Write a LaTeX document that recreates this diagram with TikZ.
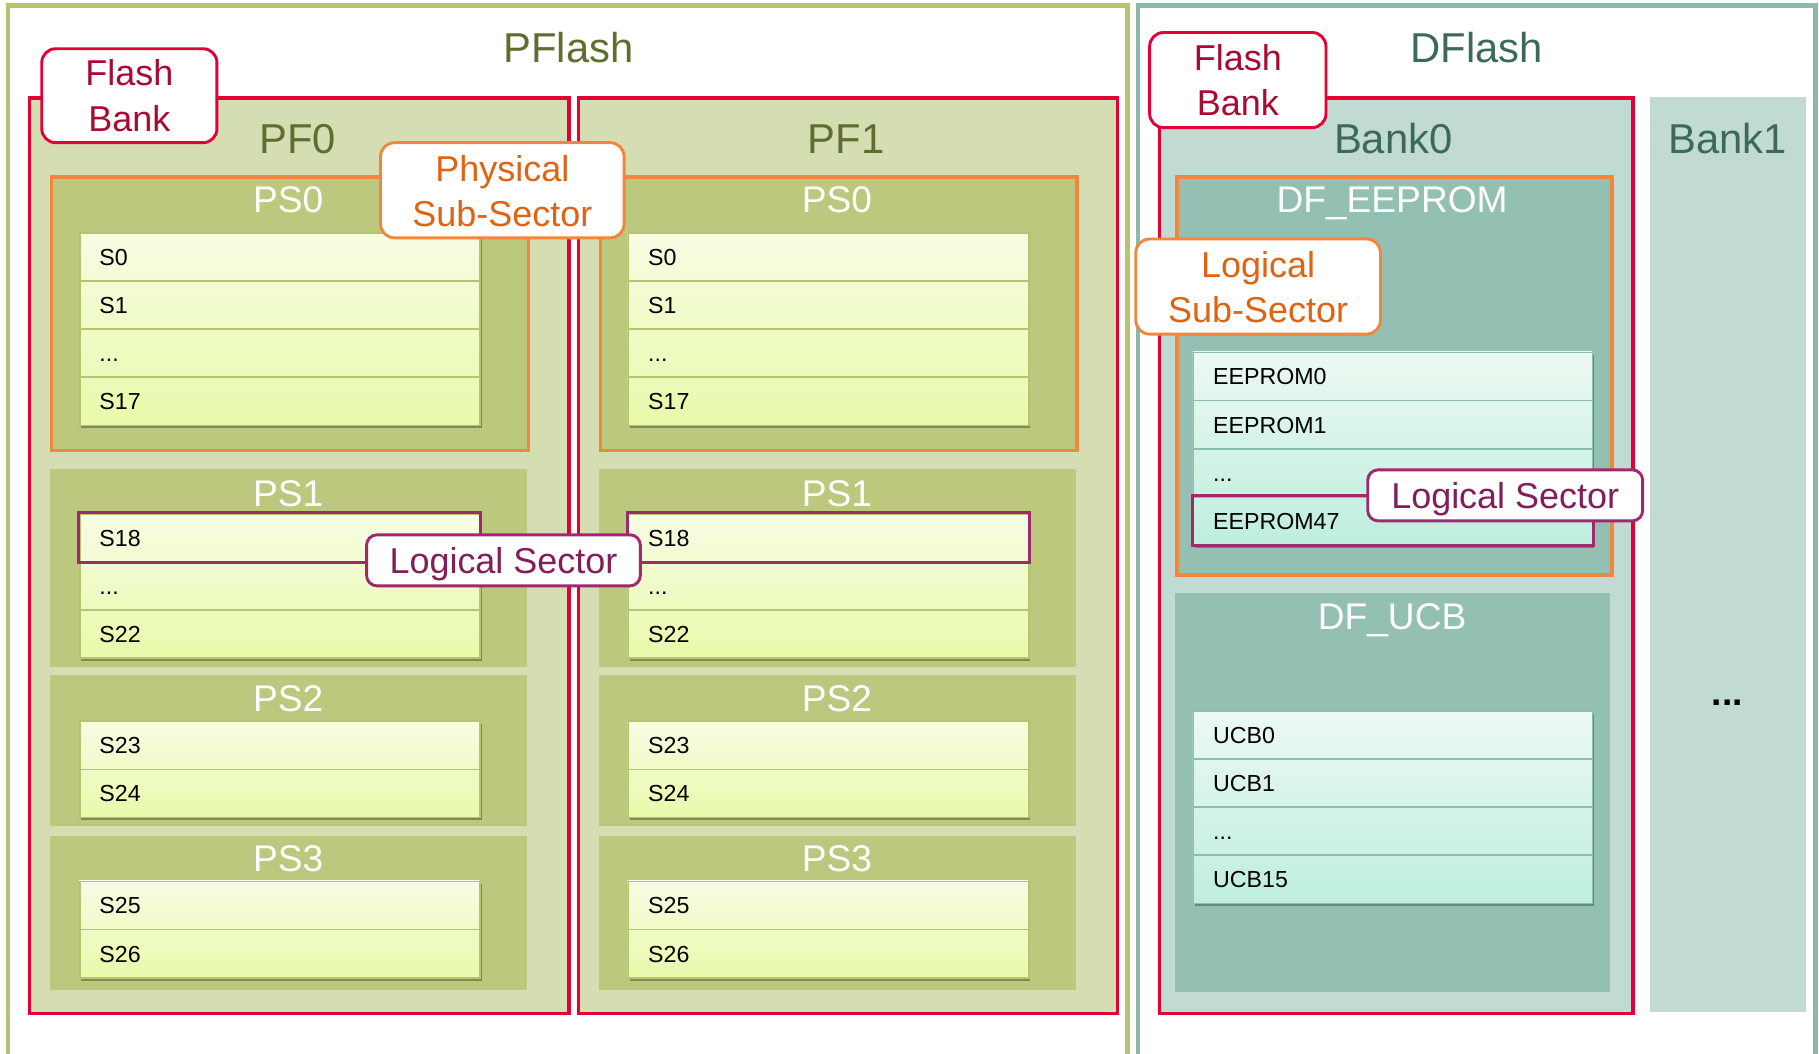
\documentclass[tikz,border=0pt]{standalone}
\usepackage{fontspec}
\setmainfont{Liberation Sans}
\usetikzlibrary{shadows}

\definecolor{pfline}{RGB}{181,196,110}
\definecolor{pftitle}{RGB}{94,110,46}
\definecolor{pffill}{RGB}{213,222,178}
\definecolor{psfill}{RGB}{187,200,126}
\definecolor{dfline}{RGB}{140,185,168}
\definecolor{dftitle}{RGB}{60,105,90}
\definecolor{dffill}{RGB}{193,219,211}
\definecolor{dsfill}{RGB}{148,192,179}
\definecolor{bankred}{RGB}{226,0,52}
\definecolor{banktext}{RGB}{170,10,50}
\definecolor{subor}{RGB}{240,135,60}
\definecolor{subtext}{RGB}{222,100,20}
\definecolor{secpurp}{RGB}{160,40,110}
\definecolor{sectext}{RGB}{130,30,90}
\definecolor{pfrowtop}{RGB}{247,252,228}
\definecolor{pfrowbot}{RGB}{232,250,170}
\definecolor{pfrowline}{RGB}{181,196,110}
\definecolor{dfrowtop}{RGB}{236,249,243}
\definecolor{dfrowbot}{RGB}{190,238,222}
\definecolor{dfrowline}{RGB}{140,190,175}

\newcommand{\titlefont}{\fontsize{36}{40}\selectfont}
\newcommand{\partfont}{\fontsize{32}{36}\selectfont}
\newcommand{\notefont}{\fontsize{31}{39}\selectfont}
\newcommand{\rowfont}{\fontsize{20}{24}\selectfont}
\newcommand{\dotsrow}{...}

\tikzstyle{titletext} = [inner sep=0pt, font=\titlefont, text height=26pt, text depth=0pt]
\tikzstyle{parttext} = [inner sep=0pt, font=\partfont, text=white, text height=23pt, text depth=0pt]
\tikzstyle{bank} = [rectangle, anchor=north west, inner sep=0pt, draw=bankred, line width=3pt, minimum height=789pt]
\tikzstyle{region} = [rectangle, anchor=north west, inner sep=0pt, minimum width=411pt]
\tikzstyle{tab} = [rectangle, anchor=north west, inner sep=0pt, minimum width=345pt, drop shadow={shadow xshift=2pt, shadow yshift=-3pt, opacity=0.3, fill=black}]
\tikzstyle{pfrow} = [rectangle, anchor=north west, draw=pfrowline, line width=1.5pt, inner xsep=17pt, inner ysep=0pt, text width=311pt, text height=14.5pt, text depth=0pt, minimum height=41.5pt, font=\rowfont]
\tikzstyle{dfrow} = [pfrow, draw=dfrowline]
\tikzstyle{pick} = [draw=secpurp, line width=2.5pt]
\tikzstyle{callout} = [rectangle, rounded corners=12pt, fill=white, line width=2.5pt, align=center, inner sep=0pt, font=\notefont]

\begin{document}
\begin{tikzpicture}[x=1pt, y=-1pt]
	\useasboundingbox (0,0) rectangle (1568,908);
	
	% outer frames
	\draw[draw=pfline, line width=4pt] (7,915) |- (972,5) -- (972,915);
	\draw[draw=dfline, line width=4pt] (981,915) |- (1565,5) -- (1565,915);
	\node (pflash) [titletext, text=pftitle] at (490,41) {PFlash};
	\node (dflash) [titletext, text=dftitle] at (1273,41) {DFlash};
	
	% PFlash banks
	\foreach \n in {0,1} {
		\pgfmathsetmacro{\dx}{473*\n}
		\node (pf\n) [bank, fill=pffill, minimum width=465pt] at (24+\dx,83) {};
		\node (pf\n-t) [titletext, text=pftitle] at (256.5+\dx,119) {PF\n};
		
		\node (pf\n-ps0) [region, fill=psfill, draw=subor, line width=3pt, minimum height=236pt] at (43+\dx,151) {};
		\node (pf\n-ps1) [region, fill=psfill, minimum height=171pt] at (43+\dx,404) {};
		\node (pf\n-ps2) [region, fill=psfill, minimum height=130pt] at (43+\dx,582) {};
		\node (pf\n-ps3) [region, fill=psfill, minimum height=133pt] at (43+\dx,720) {};
		\node (pf\n-l0) [parttext] at (248.5+\dx,172) {PS0};
		\node (pf\n-l1) [parttext] at (248.5+\dx,425) {PS1};
		\node (pf\n-l2) [parttext] at (248.5+\dx,602) {PS2};
		\node (pf\n-l3) [parttext] at (248.5+\dx,740) {PS3};
		
		\node (pf\n-tab0) [tab, top color=pfrowtop, bottom color=pfrowbot, minimum height=166pt] at (68+\dx,200) {};
		\foreach \t [count=\i from 0] in {S0,S1,\dotsrow,S17}
			\node (pf\n-r0-\i) [pfrow] at (68+\dx,200+41.5*\i) {\t};
		
		\node (pf\n-tab1) [tab, top color=pfrowtop, bottom color=pfrowbot, minimum height=124.5pt] at (68+\dx,442) {};
		\foreach \t [count=\i from 0] in {S18,\dotsrow,S22}
			\node (pf\n-r1-\i) [pfrow] at (68+\dx,442+41.5*\i) {\t};
		\draw[pick] (pf\n-r1-0.north west) rectangle (pf\n-r1-0.south east);
		
		\node (pf\n-tab2) [tab, top color=pfrowtop, bottom color=pfrowbot, minimum height=83pt] at (68+\dx,621) {};
		\foreach \t [count=\i from 0] in {S23,S24}
			\node (pf\n-r2-\i) [pfrow] at (68+\dx,621+41.5*\i) {\t};
		
		\node (pf\n-tab3) [tab, top color=pfrowtop, bottom color=pfrowbot, minimum height=83pt] at (68+\dx,759) {};
		\foreach \t [count=\i from 0] in {S25,S26}
			\node (pf\n-r3-\i) [pfrow] at (68+\dx,759+41.5*\i) {\t};
	}
	
	% DFlash banks
	\node (bank0) [bank, fill=dffill, minimum width=408pt] at (998,83) {};
	\node (bank1) [rectangle, anchor=north west, inner sep=0pt, fill=dffill, minimum width=135pt, minimum height=789pt] at (1422,83) {};
	\node (bank0-t) [titletext, text=dftitle] at (1201,119) {Bank0};
	\node (bank1-t) [titletext, text=dftitle] at (1489,119) {Bank1};
	\node (bank1-more) [inner sep=0pt, font=\partfont\bfseries] at (1489,606) {...};
	
	\node (eeprom) [region, minimum width=375pt, fill=dsfill, draw=subor, line width=3pt, minimum height=343pt] at (1013,151) {};
	\node (ucb) [region, minimum width=375pt, fill=dsfill, minimum height=344pt] at (1013,511) {};
	\node (eeprom-t) [parttext] at (1200,172) {DF\_EEPROM};
	\node (ucb-t) [parttext] at (1200,531) {DF\_UCB};
	
	\node (eeprom-tab) [tab, minimum width=344pt, top color=dfrowtop, bottom color=dfrowbot, minimum height=166pt] at (1028,303) {};
	\foreach \t [count=\i from 0] in {EEPROM0,EEPROM1,\dotsrow,EEPROM47}
		\node (eeprom-r\i) [dfrow, text width=310pt] at (1028,303+41.5*\i) {\t};
	\draw[pick] (eeprom-r3.north west) rectangle (eeprom-r3.south east);
	
	\node (ucb-tab) [tab, minimum width=344pt, top color=dfrowtop, bottom color=dfrowbot, minimum height=166pt] at (1028,612) {};
	\foreach \t [count=\i from 0] in {UCB0,UCB1,\dotsrow,UCB15}
		\node (ucb-r\i) [dfrow, text width=310pt] at (1028,612+41.5*\i) {\t};
	
	% callouts
	\node (pfbank) [callout, draw=bankred, text=banktext, minimum width=151pt, minimum height=81pt] at (111.5,82.5) {Flash\\Bank};
	\node (dfbank) [callout, draw=bankred, text=banktext, minimum width=152pt, minimum height=82pt] at (1067,69) {Flash\\Bank};
	\node (physub) [callout, draw=subor, text=subtext, minimum width=210pt, minimum height=82pt] at (433,164) {\rule{0pt}{24pt}Physical\\Sub-Sector};
	\node (logsub) [callout, draw=subor, text=subtext, minimum width=211pt, minimum height=82pt] at (1084.5,247) {\rule{0pt}{24pt}Logical\\Sub-Sector};
	\node (pfsec) [callout, draw=secpurp, text=sectext, minimum width=236pt, minimum height=44pt, rounded corners=9pt, text height=22pt, text depth=0pt] at (434,483) {Logical Sector};
	\node (dfsec) [callout, draw=secpurp, text=sectext, minimum width=237pt, minimum height=44pt, rounded corners=9pt, text height=22pt, text depth=0pt] at (1297.5,427) {Logical Sector};
	
\end{tikzpicture}
\end{document}
